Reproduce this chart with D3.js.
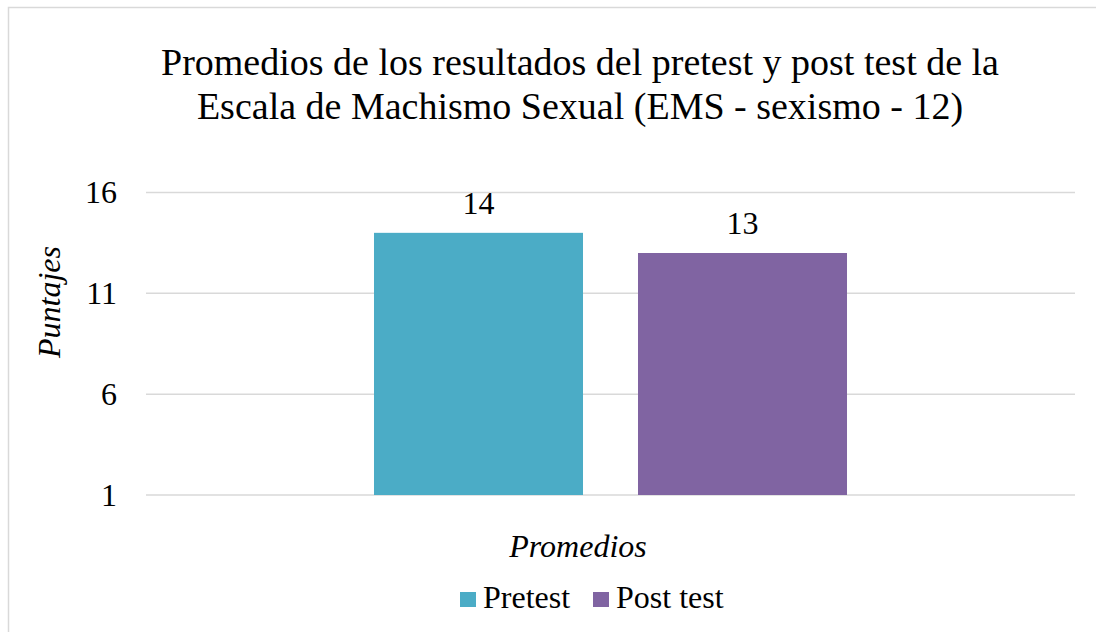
<html>
  <head>
    <title>EMS</title>
    <script src="https://d3js.org/d3.v7.min.js"></script>
    <style>
      body { margin: 0; background: #fff; }
    </style>
  </head>
  <body>
    <div id='wrapper'>
      <script>
        // data
        var category = ["Promedios"];
        var series = ["Pretest", "Post test"];
        var values = [14, 13];
        var colors = ["#4bacc6", "#8064a2"];
        var yTicks = [1, 6, 11, 16];
        var titleLines = ["Promedios de los resultados del pretest y post test de la",
                          "Escala de Machismo Sexual (EMS - sexismo - 12)"];

        var width = 1096, height = 632;
        var plotLeft = 146, plotRight = 1075, plotTop = 192.5, plotBottom = 495;
        var serif = "'Liberation Serif', 'Times New Roman', serif";

        var svg = d3.select("#wrapper").append("svg")
                    .attr("width", width)
                    .attr("height", height)
                    .style("font-family", serif);

        // chart border
        svg.append("rect")
           .attr("x", 8.5).attr("y", 7.5)
           .attr("width", width).attr("height", height)
           .attr("fill", "#fff")
           .attr("stroke", "#d9d9d9")
           .attr("stroke-width", 1.5);

        // title
        svg.selectAll(".title").data(titleLines).enter().append("text")
           .attr("class", "title")
           .attr("x", 580)
           .attr("y", function(d, i) { return 75 + i*44; })
           .attr("text-anchor", "middle")
           .style("font-size", "38px")
           .text(function(d) { return d; });

        var yScale = d3.scaleLinear().domain([1, 16]).range([plotBottom, plotTop]);
        var x0 = d3.scaleBand().domain(category).range([plotLeft, plotRight])
                   .paddingInner(0).paddingOuter(0.482);
        var x1 = d3.scaleBand().domain(series).range([0, x0.bandwidth()])
                   .paddingInner(0.2083).paddingOuter(0);

        // gridlines
        svg.append("g").selectAll("line").data(yTicks).enter().append("line")
           .attr("x1", plotLeft).attr("x2", plotRight)
           .attr("y1", function(d) { return yScale(d); })
           .attr("y2", function(d) { return yScale(d); })
           .attr("stroke", "#d9d9d9")
           .attr("stroke-width", 1.5);

        // y axis labels
        var yAxis = d3.axisLeft(yScale).tickValues(yTicks).tickSize(0).tickPadding(0);
        var gy = svg.append("g")
           .attr("transform", "translate(117,0)")
           .call(yAxis);
        gy.select(".domain").remove();
        gy.attr("font-family", null).attr("font-size", null);
        gy.selectAll("text")
          .style("font-size", "32px")
          .attr("fill", "#000");

        // bars
        var g = svg.append("g").attr("transform", "translate(" + x0(category[0]) + ",0)");
        g.selectAll("rect").data(values).enter().append("rect")
         .attr("x", function(d, i) { return x1(series[i]); })
         .attr("y", function(d) { return yScale(d); })
         .attr("width", x1.bandwidth())
         .attr("height", function(d) { return yScale(1) - yScale(d); })
         .attr("fill", function(d, i) { return colors[i]; });

        // data labels
        g.selectAll(".lbl").data(values).enter().append("text")
         .attr("class", "lbl")
         .attr("x", function(d, i) { return x1(series[i]) + x1.bandwidth()/2; })
         .attr("y", function(d) { return yScale(d) - 19; })
         .attr("text-anchor", "middle")
         .style("font-size", "32px")
         .text(function(d) { return d; });

        // axis titles
        svg.append("text")
           .attr("transform", "translate(60,302) rotate(-90)")
           .attr("text-anchor", "middle")
           .style("font-size", "32px")
           .style("font-style", "italic")
           .text("Puntajes");
        svg.append("text")
           .attr("x", 578).attr("y", 557)
           .attr("text-anchor", "middle")
           .style("font-size", "32px")
           .style("font-style", "italic")
           .text("Promedios");

        // legend
        var legendX = [460, 593];
        var leg = svg.append("g").selectAll("g").data(series).enter().append("g")
           .attr("transform", function(d, i) { return "translate(" + legendX[i] + ",592)"; });
        leg.append("rect")
           .attr("width", 16).attr("height", 15)
           .attr("fill", function(d, i) { return colors[i]; });
        leg.append("text")
           .attr("x", 23).attr("y", 15.5)
           .style("font-size", "32px")
           .text(function(d) { return d; });
      </script>
    </div>
  </body>
</html>
